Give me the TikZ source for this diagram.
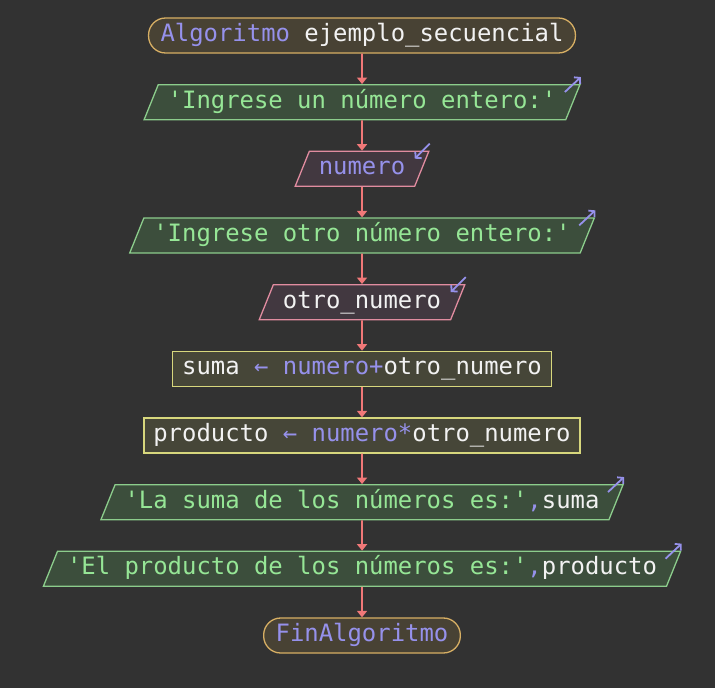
\documentclass[tikz,border=0pt]{standalone}
\usepackage{fontspec}
\setmonofont{DejaVu Sans Mono}
\usetikzlibrary{shapes.geometric,arrows.meta,calc}
\definecolor{bgc}{RGB}{50,50,50}
\definecolor{termfill}{RGB}{72,66,52}
\definecolor{termborder}{RGB}{215,175,100}
\definecolor{procfill}{RGB}{70,70,56}
\definecolor{procborder}{RGB}{215,215,125}
\definecolor{outfill}{RGB}{60,78,60}
\definecolor{outborder}{RGB}{140,205,140}
\definecolor{infill}{RGB}{66,56,64}
\definecolor{inborder}{RGB}{225,140,160}
\definecolor{kwc}{RGB}{150,145,235}
\definecolor{litc}{RGB}{150,230,150}
\definecolor{idc}{RGB}{242,242,242}
\definecolor{flowc}{RGB}{240,120,120}
\newcommand{\kwd}[1]{\textcolor{kwc}{#1}}
\newcommand{\lit}[1]{\textcolor{litc}{#1}}
\newcommand{\idn}[1]{\textcolor{idc}{#1}}
\tikzset{every picture/.style={>={Stealth[length=6.5pt,width=10pt,inset=0pt]}},
  block/.style={draw, line width=1.3pt, inner ysep=6.5pt,
    inner xsep=9.5pt, text=idc, font=\ttfamily\fontsize{23.9}{26}\selectfont,
    text height=17pt, text depth=5pt},
  terminal/.style={block, rectangle, draw=termborder, fill=termfill,
    rounded corners=17pt, inner xsep=12pt},
  proc/.style={block, rectangle, draw=procborder, fill=procfill},
  iobox/.style={block, trapezium, trapezium left angle=68,
    trapezium right angle=112},
  outbox/.style={iobox, draw=outborder, fill=outfill},
  inbox/.style={iobox, draw=inborder, fill=infill},
  flow/.style={->, draw=flowc, line width=1.8pt},
  ioarrow/.style={-{Straight Barb[length=4pt,width=9pt]}, draw=kwc,
    line width=1.8pt}}

\begin{document}
\begin{tikzpicture}[x=1pt,y=-1pt]
  \fill[bgc, use as bounding box] (0,0) rectangle (715,688);
  % blocks
  \node[terminal] (start) at (362,35.5) {\kwd{Algoritmo} \idn{ejemplo\_secuencial}};
  \node[outbox] (out1) at (362,102.2) {\lit{'Ingrese un número entero:'}};
  \node[inbox] (in1) at (362,168.8) {\kwd{numero}};
  \node[outbox] (out2) at (362,235.5) {\lit{'Ingrese otro número entero:'}};
  \node[inbox] (in2) at (362,302.2) {\idn{otro\_numero}};
  \node[proc] (sum) at (362,368.8) {\idn{suma} \kwd{←} \kwd{numero+}\idn{otro\_numero}};
  \node[proc] (prod) at (362,435.5) {\idn{producto} \kwd{←} \kwd{numero*}\idn{otro\_numero}};
  \node[outbox] (out3) at (362,502.2) {\lit{'La suma de los números es:'}\kwd{,}\idn{suma}};
  \node[outbox] (out4) at (362,568.8) {\lit{'El producto de los números es:'}\kwd{,}\idn{producto}};
  \node[terminal] (stop) at (362,635.5) {\kwd{FinAlgoritmo}};
  % connectors
  \foreach \a/\b in {start/out1, out1/in1, in1/out2, out2/in2, in2/sum,
                     sum/prod, prod/out3, out3/out4, out4/stop}
    \draw[flow] (\a) -- (\b);
  % read / write marks
  \foreach \n in {out1, out2, out3, out4}
    \draw[ioarrow] ($(\n.top right corner)+(-16,8)$) -- ++(16,-15);
  \foreach \n in {in1, in2}
    \draw[ioarrow] ($(\n.top right corner)+(0,-7)$) -- ++(-15,15);
\end{tikzpicture}
\end{document}
